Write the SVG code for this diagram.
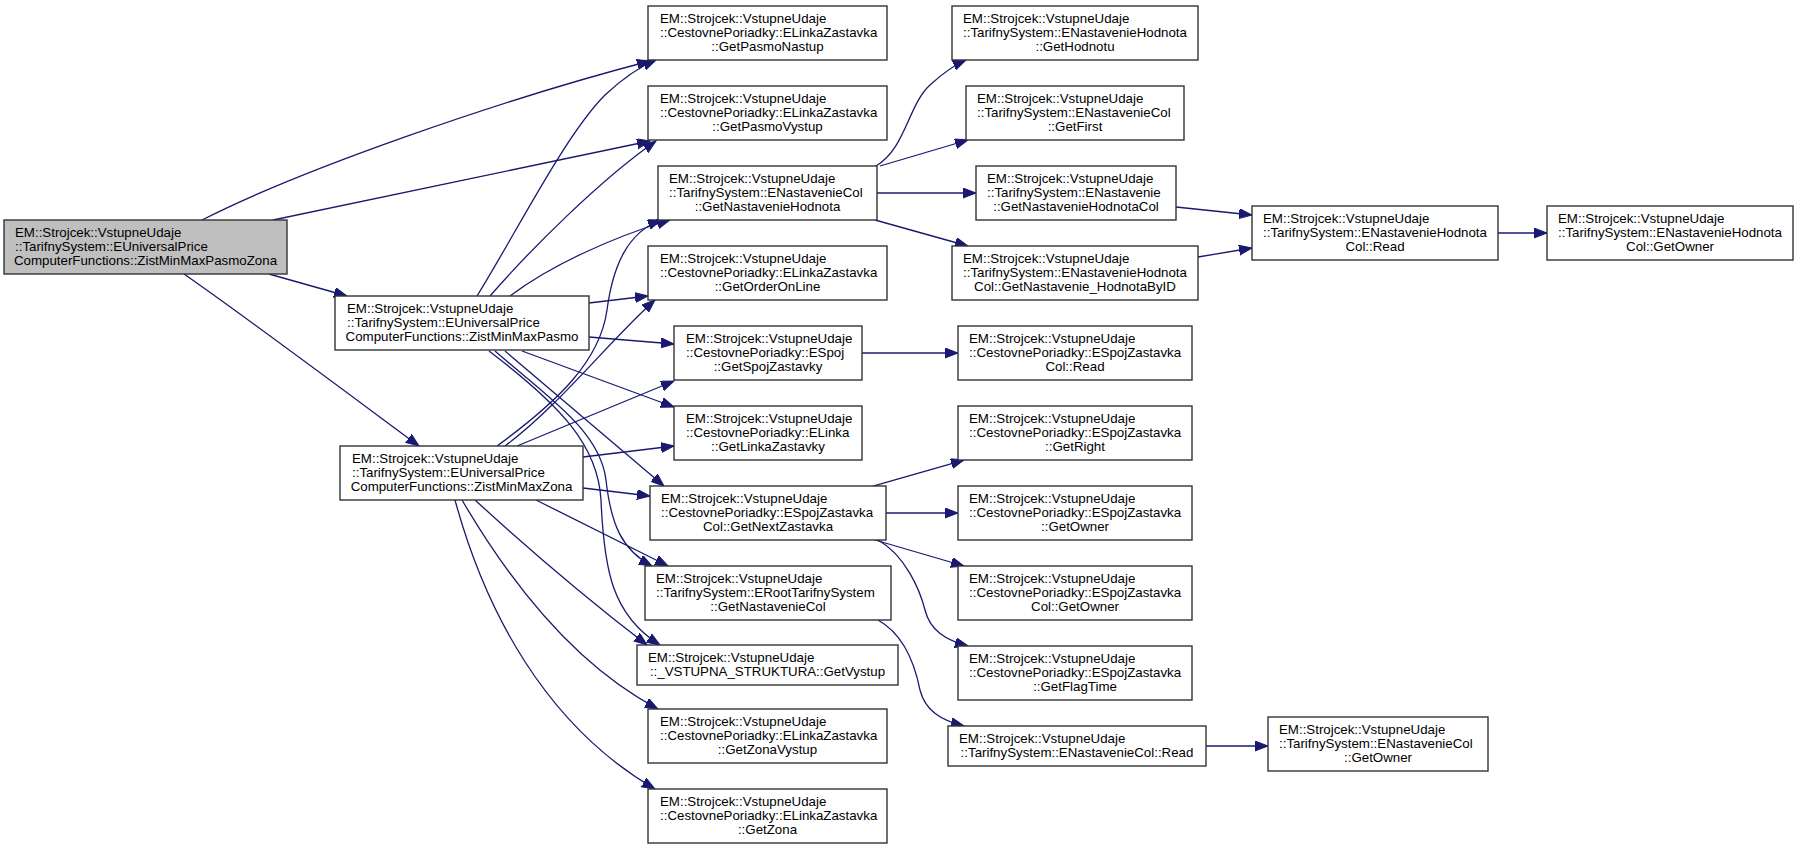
<svg xmlns="http://www.w3.org/2000/svg" width="1799" height="851" viewBox="0 0 1799 851">
<defs>
<marker id="ah" markerUnits="userSpaceOnUse" markerWidth="14" markerHeight="11" refX="13" refY="5" orient="auto">
<path d="M0,0 L13,5 L0,10 z" fill="#191970" stroke="#191970" stroke-width="1"/>
</marker>
<style>
.n rect{fill:#ffffff;stroke:#333333;stroke-width:1.4}
.n.root rect{fill:#bfbfbf}
.n text{font-family:"Liberation Sans",Arial,Helvetica,sans-serif;font-size:13.3px;fill:#000000}
.n text.c{text-anchor:middle}
#edges path{fill:none;stroke:#191970;stroke-width:1.3;marker-end:url(#ah)}
</style>
</defs>
<rect x="0" y="0" width="1799" height="851" fill="#ffffff"/>
<g id="edges">
<path d="M202,220 C300,170 500,100 650,61"/>
<path d="M273,220 L650,141"/>
<path d="M269,274 L347,296"/>
<path d="M184,274 C250,320 350,395 419,446"/>
<path d="M477,296 C515,235 565,135 605,95 C622,79 637,68 656,60"/>
<path d="M490,296 C530,250 600,180 656,141"/>
<path d="M510,296 C550,266 610,238 670,220"/>
<path d="M497,446 C560,400 600,360 607,310 C613,265 628,232 661,220"/>
<path d="M589,303 L648,296"/>
<path d="M505,446 C560,405 610,340 655,300"/>
<path d="M589,337 L674,344"/>
<path d="M517,446 L674,381"/>
<path d="M522,351 L674,407"/>
<path d="M583,457 L674,446"/>
<path d="M505,351 L664,486"/>
<path d="M583,488 L650,496"/>
<path d="M495,351 C545,395 600,430 606,480 C611,525 622,550 652,566"/>
<path d="M536,500 L668,566"/>
<path d="M489,351 C560,405 598,445 601,500 C604,570 612,615 660,645"/>
<path d="M475,500 C535,555 595,605 647,645"/>
<path d="M462,500 C500,565 565,660 658,709"/>
<path d="M455,500 C485,610 545,725 655,789"/>
<path d="M876,166 C906,148 908,105 930,85 C942,74 952,66 966,60"/>
<path d="M880,166 L968,140"/>
<path d="M877,193 L976,193"/>
<path d="M875,220 L968,246"/>
<path d="M1176,207 L1252,215"/>
<path d="M1198,257 L1252,248"/>
<path d="M1498,233 L1547,233"/>
<path d="M862,353 L958,353"/>
<path d="M873,486 L964,460"/>
<path d="M886,513 L958,513"/>
<path d="M875,540 L964,566"/>
<path d="M878,540 C905,555 920,590 925,610 C930,630 945,640 968,646"/>
<path d="M878,620 C905,635 915,665 920,690 C925,710 940,720 964,726"/>
<path d="M1206,746 L1268,746"/>
</g>
<g id="n_root" class="n root"><rect x="4" y="220" width="283" height="54"/><text x="15" y="237">EM::Strojcek::VstupneUdaje</text><text x="15" y="251">::TarifnySystem::EUniversalPrice</text><text class="c" x="145.5" y="265">ComputerFunctions::ZistMinMaxPasmoZona</text></g>
<g id="n_pasmo" class="n"><rect x="335" y="296" width="254" height="54"/><text x="347" y="313">EM::Strojcek::VstupneUdaje</text><text x="347" y="327">::TarifnySystem::EUniversalPrice</text><text class="c" x="462" y="341">ComputerFunctions::ZistMinMaxPasmo</text></g>
<g id="n_zona" class="n"><rect x="340" y="446" width="243" height="54"/><text x="352" y="463">EM::Strojcek::VstupneUdaje</text><text x="352" y="477">::TarifnySystem::EUniversalPrice</text><text class="c" x="461.5" y="491">ComputerFunctions::ZistMinMaxZona</text></g>
<g id="n_getpasmonastup" class="n"><rect x="648" y="6" width="239" height="54"/><text x="660" y="23">EM::Strojcek::VstupneUdaje</text><text x="660" y="37">::CestovnePoriadky::ELinkaZastavka</text><text class="c" x="767.5" y="51">::GetPasmoNastup</text></g>
<g id="n_getpasmovystup" class="n"><rect x="648" y="86" width="239" height="54"/><text x="660" y="103">EM::Strojcek::VstupneUdaje</text><text x="660" y="117">::CestovnePoriadky::ELinkaZastavka</text><text class="c" x="767.5" y="131">::GetPasmoVystup</text></g>
<g id="n_getnastaveniehodnota" class="n"><rect x="658" y="166" width="219" height="54"/><text x="669" y="183">EM::Strojcek::VstupneUdaje</text><text x="669" y="197">::TarifnySystem::ENastavenieCol</text><text class="c" x="767.5" y="211">::GetNastavenieHodnota</text></g>
<g id="n_getorderonline" class="n"><rect x="648" y="246" width="239" height="54"/><text x="660" y="263">EM::Strojcek::VstupneUdaje</text><text x="660" y="277">::CestovnePoriadky::ELinkaZastavka</text><text class="c" x="767.5" y="291">::GetOrderOnLine</text></g>
<g id="n_getspojzastavky" class="n"><rect x="674" y="326" width="188" height="54"/><text x="686" y="343">EM::Strojcek::VstupneUdaje</text><text x="686" y="357">::CestovnePoriadky::ESpoj</text><text class="c" x="768" y="371">::GetSpojZastavky</text></g>
<g id="n_getlinkazastavky" class="n"><rect x="674" y="406" width="188" height="54"/><text x="686" y="423">EM::Strojcek::VstupneUdaje</text><text x="686" y="437">::CestovnePoriadky::ELinka</text><text class="c" x="768" y="451">::GetLinkaZastavky</text></g>
<g id="n_getnextzastavka" class="n"><rect x="650" y="486" width="236" height="54"/><text x="661" y="503">EM::Strojcek::VstupneUdaje</text><text x="661" y="517">::CestovnePoriadky::ESpojZastavka</text><text class="c" x="768" y="531">Col::GetNextZastavka</text></g>
<g id="n_root_getnastaveniecol" class="n"><rect x="645" y="566" width="246" height="54"/><text x="656" y="583">EM::Strojcek::VstupneUdaje</text><text x="656" y="597">::TarifnySystem::ERootTarifnySystem</text><text class="c" x="768" y="611">::GetNastavenieCol</text></g>
<g id="n_getvystup" class="n"><rect x="637" y="645" width="261" height="40"/><text x="648" y="662">EM::Strojcek::VstupneUdaje</text><text class="c" x="767.5" y="676">::_VSTUPNA_STRUKTURA::GetVystup</text></g>
<g id="n_getzonavystup" class="n"><rect x="648" y="709" width="239" height="54"/><text x="660" y="726">EM::Strojcek::VstupneUdaje</text><text x="660" y="740">::CestovnePoriadky::ELinkaZastavka</text><text class="c" x="767.5" y="754">::GetZonaVystup</text></g>
<g id="n_getzona" class="n"><rect x="648" y="789" width="239" height="54"/><text x="660" y="806">EM::Strojcek::VstupneUdaje</text><text x="660" y="820">::CestovnePoriadky::ELinkaZastavka</text><text class="c" x="767.5" y="834">::GetZona</text></g>
<g id="n_gethodnotu" class="n"><rect x="952" y="6" width="246" height="54"/><text x="963" y="23">EM::Strojcek::VstupneUdaje</text><text x="963" y="37">::TarifnySystem::ENastavenieHodnota</text><text class="c" x="1075" y="51">::GetHodnotu</text></g>
<g id="n_getfirst" class="n"><rect x="966" y="86" width="218" height="54"/><text x="977" y="103">EM::Strojcek::VstupneUdaje</text><text x="977" y="117">::TarifnySystem::ENastavenieCol</text><text class="c" x="1075" y="131">::GetFirst</text></g>
<g id="n_getnastaveniehodnotacol" class="n"><rect x="976" y="166" width="200" height="54"/><text x="987" y="183">EM::Strojcek::VstupneUdaje</text><text x="987" y="197">::TarifnySystem::ENastavenie</text><text class="c" x="1076" y="211">::GetNastavenieHodnotaCol</text></g>
<g id="n_hodnotabyid" class="n"><rect x="952" y="246" width="246" height="54"/><text x="963" y="263">EM::Strojcek::VstupneUdaje</text><text x="963" y="277">::TarifnySystem::ENastavenieHodnota</text><text class="c" x="1075" y="291">Col::GetNastavenie_HodnotaByID</text></g>
<g id="n_espojzastavkacol_read" class="n"><rect x="958" y="326" width="234" height="54"/><text x="969" y="343">EM::Strojcek::VstupneUdaje</text><text x="969" y="357">::CestovnePoriadky::ESpojZastavka</text><text class="c" x="1075" y="371">Col::Read</text></g>
<g id="n_getright" class="n"><rect x="958" y="406" width="234" height="54"/><text x="969" y="423">EM::Strojcek::VstupneUdaje</text><text x="969" y="437">::CestovnePoriadky::ESpojZastavka</text><text class="c" x="1075" y="451">::GetRight</text></g>
<g id="n_espojzastavka_getowner" class="n"><rect x="958" y="486" width="234" height="54"/><text x="969" y="503">EM::Strojcek::VstupneUdaje</text><text x="969" y="517">::CestovnePoriadky::ESpojZastavka</text><text class="c" x="1075" y="531">::GetOwner</text></g>
<g id="n_espojzastavkacol_getowner" class="n"><rect x="958" y="566" width="234" height="54"/><text x="969" y="583">EM::Strojcek::VstupneUdaje</text><text x="969" y="597">::CestovnePoriadky::ESpojZastavka</text><text class="c" x="1075" y="611">Col::GetOwner</text></g>
<g id="n_getflagtime" class="n"><rect x="958" y="646" width="234" height="54"/><text x="969" y="663">EM::Strojcek::VstupneUdaje</text><text x="969" y="677">::CestovnePoriadky::ESpojZastavka</text><text class="c" x="1075" y="691">::GetFlagTime</text></g>
<g id="n_enastaveniecol_read" class="n"><rect x="948" y="726" width="258" height="40"/><text x="959" y="743">EM::Strojcek::VstupneUdaje</text><text class="c" x="1077" y="757">::TarifnySystem::ENastavenieCol::Read</text></g>
<g id="n_hodnotacol_read" class="n"><rect x="1252" y="206" width="246" height="54"/><text x="1263" y="223">EM::Strojcek::VstupneUdaje</text><text x="1263" y="237">::TarifnySystem::ENastavenieHodnota</text><text class="c" x="1375" y="251">Col::Read</text></g>
<g id="n_enastaveniecol_getowner" class="n"><rect x="1268" y="717" width="220" height="54"/><text x="1279" y="734">EM::Strojcek::VstupneUdaje</text><text x="1279" y="748">::TarifnySystem::ENastavenieCol</text><text class="c" x="1378" y="762">::GetOwner</text></g>
<g id="n_hodnotacol_getowner" class="n"><rect x="1547" y="206" width="246" height="54"/><text x="1558" y="223">EM::Strojcek::VstupneUdaje</text><text x="1558" y="237">::TarifnySystem::ENastavenieHodnota</text><text class="c" x="1670" y="251">Col::GetOwner</text></g>
</svg>
